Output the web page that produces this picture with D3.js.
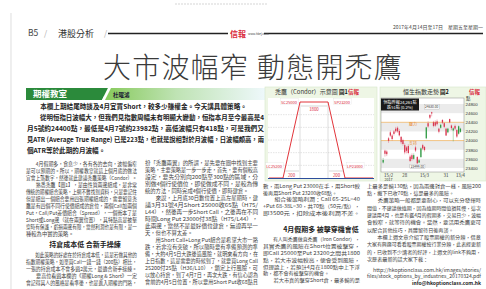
<!DOCTYPE html>
<html>
<head>
<meta charset="utf-8">
<script src="https://cdn.jsdelivr.net/npm/d3@7"></script>
<style>
  body { margin: 0; background: #fff; }
  svg { display: block; font-family: "Noto Sans CJK TC", "Noto Sans", sans-serif; }
</style>
</head>
<body>
<script>
// ---- chart data (圖2 恒生指數走勢) ----
const dates = ["10/2","13/2","14/2","15/2","16/2","17/2","20/2","21/2","22/2","23/2","24/2","27/2","28/2",
  "1/3","2/3","3/3","6/3","7/3","8/3","9/3","10/3","13/3","14/3","15/3","16/3","17/3","20/3","21/3","22/3",
  "23/3","24/3","27/3","28/3","29/3","30/3","31/3","3/4","5/4","6/4","7/4","10/4","11/4","12/4","13/4"]
const opens  = [23520,23780,23760,24050,24180,24110,24200,24260,24280,24210,24080,24010,23900,
  23850,23880,23650,23680,23600,23850,23640,23520,23640,23900,23860,24050,24380,24560,24620,24400,
  24400,24420,24260,24280,24450,24380,24260,24180,24470,24330,24220,24320,24230,24150,24190]
const highs  = [23620,23800,23790,24080,24220,24140,24230,24300,24310,24250,24100,24040,23940,
  23880,23920,23690,23720,23720,23890,23660,23600,23850,23930,23880,24300,24420,24580,24630,24430,
  24440,24460,24280,24370,24470,24400,24280,24280,24480,24350,24290,24350,24250,24330,24280]
const lows   = [23500,23650,23660,23950,24080,24000,24110,24170,24170,24090,23920,23890,23700,
  23720,23700,23530,23560,23580,23750,23499,23510,23620,23790,23760,24030,24280,24470,24530,24290,
  24300,24330,24160,24260,24360,24270,24100,24160,24380,24230,23982,24230,24060,24130,24170]
const closes = [23575,23711,23703,23994,24108,24034,24146,24202,24201,24114,23965,23925,23741,
  23776,23728,23553,23596,23681,23782,23501,23568,23829,23827,23792,24288,24309,24501,24593,24320,
  24327,24358,24193,24345,24392,24301,24111,24261,24400,24273,24267,24262,24088,24313,24261]
const hsiTicks = [23400,23600,23800,24000,24200,24400,24600,24800]
const xLabels = ["15/2","28/2","15/3","31/3","13/4"]
const xLabelText = ["15/2","28","15/3","31","13/4"]
const resistance = 24400, support = 24000
const infoLines = ["恒指昨報24,261點", "跌51點 (0.2%)"]

// ---- chart data (圖1 禿鷹示意圖) ----
const legNames   = ["LC25200","SC25000","SP23200","LP23000"]
const legStrikes = [25200,25000,23200,23000]
const legPayoff  = [-130,70,70,-130]
const wingStrikes = [25400,22800]
const spanLabels = ["200","1800","200"]

// ---- article text ----
const intro = [
  "　　本欄上期結尾時談及4月宜買Short，較多少賺權金。今天講具體策略。¶",
  "　　從明恒指日波幅大，但我們見指數周幅未有明顯大變動，恒指本月至今最高是4",
  "月5號約24400點，最低是4月7號約23982點，高低波幅只有418點，可是我們又",
  "見ATR (Average True Range) 已是223點，也就是說相對於月波幅，日波幅頗高，兩",
  "個ATR等於此期的月波幅。¶"
]
const col1a = [
  "　　4月假期多，食息少，各有各的去向，波幅偏窄",
  "是可以預期的。所以，期權教室就這上個月底的做法",
  "宜會上落數字，然後就此建議禿鷹策略（Condor）。¶",
  "　　熟悉禿鷹【圖1】，是由性質兩邊組成，是非常",
  "傳統的期權組合策略，上網不難找到資料，只是要記住",
  "但是組出一個組合要用四張期權組成的，需要留意禿",
  "鷹是有四個不同行使價組成的倉位，兩個Call加兩個",
  "Put，Call/Put差價組合（Spread），一個衝本了是",
  "Short或Long邊（就在兩翼位置），其特點高是被擊",
  "穿時有保護，虧損兩邊有限，當然利潤也是有限，是一",
  "種較為中實的策略。¶"
]
const col1Head = "持倉成本低 合新手操練"
const col1b = [
  "　　如此策略的好處在於持倉成本低，這是若做其他的",
  "指數期權策略，如單買Call一錢一錢（200點）相比，",
  "一張的持倉成本不會多過2萬元，最適合新手操練。",
  "　　要高位看過本欄的《期權Long & Short》一定",
  "會記得其人的風格是看準後，也是進入期權的門路，"
]
const col2 = [
  "扮「禿鷹兩翼」的所謂，是先要在圖中找到主要",
  "策略，主要策略是一步一步走，首先，要有個較高",
  "設定，要先分別向200點至300點的區域，分",
  "別做4個行使價位，即使做成不同，是較為傳",
  "統的方法，同時完成4個行使價，即時建倉。¶",
  "　　來說，上月底30日數位置上高左星期時，建",
  "議3月31號4月Short 25000收65點（H75/",
  "L44），然後再一步Short Call，之後再在不同",
  "時間Long Put 23000付38點（H75/L44），",
  "此兩邊，當然不是最好價位建倉，無證再早一",
  "天，但也不算太差。¶",
  "　　用Short Call+Long Put組合是希望大市一路",
  "跌，若非沒有突破，所以隨時要有準備預測的準",
  "備，大約4月5日大跌後造風險，就明來看方向，在",
  "上日指數，這是需要的時候到了，就要買Long Call",
  "25200付25點（H36/L10），鎖定上行風險，可",
  "以放心持倉，到了4月7日，再次大跌，有信心認為",
  "會前的4月5日位置，所以要用Short Put收68點且"
]
const col3a = [
  "數，兩Long Put 23000在手，用Short較",
  "後再用Short Put 23200收68點。¶",
  "　　組合後策略利潤：Call 65-25L=40",
  "+Put 68-38L=30，共70點（50元/點），",
  "即3500元，扣除成本後利潤不差。"
]
const col3Head = "4月假期多 被擊穿機會低"
const col3b = [
  "　　有人叫禿鷹做直禿鷹（Iron Condor），",
  "其實禿鷹的風險在Short位置被擊穿，",
  "即Call 25000至Put 23200之間共1800",
  "點，若大市波幅較高，便會受到風險，",
  "但理論上，若預計4月在1800點中上下浮",
  "動，都不會有被擊穿的機會。¶",
  "　　若大市真的擊穿Short倉，最多輸的是"
]
const col4 = [
  "上最多是輸130點，因為兩邊對倉一樣，風險200",
  "點，撇下已收70點，這是最多的風險。¶",
  "　　禿鷹策略一般都是要耐心，可以充分發揮時",
  "間值，不建議做遠期，因為遠期時間值損耗慢，這次",
  "建議用4月，也是有鑑4月的假期多，交易日少，波幅",
  "會較窄，就等待的機會。當然，要活用禿鷹更可",
  "以配合其他技巧，具體留待日後再談。¶",
  "　　本欄上週文章介紹了股票期權的新分類，借意",
  "大家有興趣可看看股票期權按行業分類，此表經更新",
  "的，已收到不少讀者的好評，上週文的link不夠用，",
  "次歷表最新的話大家下載：¶"
]
const links = ["http://hkoptionclass.com.hk/images/stories/",
  "files/stock_options_by_industries_20170324.pdf", "info@hkoptionclass.com.hk"]

const width = 486, height = 289
const red = "#d9283a", textCol = "#3c3c3c"

const svg = d3.select("body").append("svg")
  .attr("width", width)
  .attr("height", height)

// justified text lines; "¶" marks the last line of a paragraph
const block = (lines, x0, x1, yc, lh, size, opt = {}) => {
  const g = svg.append("g")
    .attr("font-size", size)
    .attr("fill", opt.fill || textCol)
    .attr("font-weight", opt.weight || 400)
  lines.forEach((raw, i) => {
    const end = raw.endsWith("¶")
    const s = end ? raw.slice(0, -1) : raw
    const t = g.append("text")
      .attr("x", x0)
      .attr("y", yc + i*lh + size*0.36)
      .text(s)
    const w = t.node().getComputedTextLength()
    if (!end || w > x1 - x0) t.attr("textLength", x1 - x0).attr("lengthAdjust", "spacingAndGlyphs")
  })
}

// page furniture
svg.append("line").attr("x1", 175).attr("x2", 267).attr("y1", 4).attr("y2", 4)
  .attr("stroke", "#bbb").attr("stroke-width", 0.6).attr("stroke-dasharray", "2,1")
svg.append("line").attr("x1", 11).attr("x2", 11).attr("y1", 13).attr("y2", height)
  .attr("stroke", "#d0d0d0").attr("stroke-width", 0.7)

// header
svg.append("text").attr("x", 28).attr("y", 36).attr("font-size", 8.5).attr("fill", "#444").text("B5")
svg.append("text").attr("x", 44).attr("y", 36).attr("font-size", 8).attr("fill", "#aaa").text("/")
svg.append("text").attr("x", 58).attr("y", 36.5).attr("font-size", 9).attr("fill", "#333").text("港股分析")
svg.append("text").attr("x", 104).attr("y", 36).attr("font-size", 8).attr("fill", "#aaa").text("/")
svg.append("line").attr("x1", 108).attr("x2", 228).attr("y1", 33.5).attr("y2", 33.5)
  .attr("stroke", "#222").attr("stroke-width", 1.3)
svg.append("line").attr("x1", 264).attr("x2", 483).attr("y1", 33.5).attr("y2", 33.5)
  .attr("stroke", "#222").attr("stroke-width", 1.3)
svg.append("text").attr("x", 230).attr("y", 36.5).attr("font-size", 8).attr("font-weight", 700)
  .attr("fill", red).text("信報")
svg.append("text").attr("x", 248).attr("y", 35).attr("font-size", 3).attr("fill", "#444").text("www.hkej.com")
svg.append("text").attr("x", 483).attr("y", 29).attr("font-size", 5).attr("fill", "#444")
  .attr("text-anchor", "end").text("2017年4月14日至17日　星期五至星期一")

// headline
const headline = svg.append("g").attr("font-size", 28).attr("font-weight", 200)
  .attr("fill", "#3a3a3a").attr("letter-spacing", 1.2)
headline.append("text").attr("x", 103).attr("y", 78).text("大市波幅窄")
headline.append("text").attr("x", 257).attr("y", 78).text("動態開禿鷹")

// column bar
const defs = svg.append("defs")
const grad = defs.append("linearGradient").attr("id", "bar")
grad.append("stop").attr("offset", "0%").attr("stop-color", "#86c95a")
grad.append("stop").attr("offset", "45%").attr("stop-color", "#bfe3b4")
grad.append("stop").attr("offset", "100%").attr("stop-color", "#eef8fb")
svg.append("rect").attr("x", 104).attr("y", 88).attr("width", 161).attr("height", 12).attr("fill", "url(#bar)")
svg.append("path").attr("d", "M26,88H108L102,100H26Z").attr("fill", "#2b8a3b")
svg.append("path").attr("d", "M108,88H111L105,100H102Z").attr("fill", "#fff")
svg.append("text").attr("x", 33).attr("y", 97.3).attr("font-size", 8.5).attr("font-weight", 700)
  .attr("fill", "#fff").text("期權教室")
svg.append("text").attr("x", 113).attr("y", 96.5).attr("font-size", 5.5).attr("font-weight", 700)
  .attr("fill", "#223").text("杜曜鴻")

// article
block(intro, 27, 264, 107, 11, 6.6, { weight: 700, fill: "#222" })
block(col1a, 26, 137, 164, 7, 5.3)
svg.append("text").attr("x", 85).attr("y", 246.5).attr("font-size", 7).attr("font-weight", 700)
  .attr("fill", "#222").attr("text-anchor", "middle").text(col1Head)
block(col1b, 26, 137, 255, 7, 5.3)
block(col2, 145, 258, 163, 7, 5.3)
block(col3a, 263, 360, 186, 6.8, 5.1)
svg.append("text").attr("x", 321).attr("y", 231.5).attr("font-size", 7).attr("font-weight", 700)
  .attr("fill", "#222").attr("text-anchor", "middle").text(col3Head)
block(col3b, 263, 360, 239.5, 6.8, 5.1)
block(col4, 367, 481, 186, 7.3, 5.1)
svg.append("text").attr("x", 373).attr("y", 271.8).attr("font-size", 5).attr("fill", textCol)
  .attr("textLength", 108).attr("lengthAdjust", "spacingAndGlyphs").text(links[0])
svg.append("text").attr("x", 367).attr("y", 278.3).attr("font-size", 5).attr("fill", textCol)
  .attr("textLength", 114).attr("lengthAdjust", "spacingAndGlyphs").text(links[1])
svg.append("text").attr("x", 481).attr("y", 284.8).attr("font-size", 5).attr("font-weight", 700)
  .attr("fill", "#222").attr("text-anchor", "end").text(links[2])

// ---- 圖1 禿鷹 (Condor) 示意圖 ----
const c1 = svg.append("g")
c1.append("rect").attr("x", 265).attr("y", 87).attr("width", 112).attr("height", 94)
  .attr("fill", "#eef6e5").attr("stroke", "#d5e6c9").attr("stroke-width", 0.6)
c1.append("rect").attr("x", 268).attr("y", 98).attr("width", 106).attr("height", 80).attr("fill", "#fff")
c1.append("text").attr("x", 275).attr("y", 94.3).attr("font-size", 6).attr("fill", "#333").text("禿鷹（Condor）示意圖")
c1.append("text").attr("x", 339).attr("y", 94.3).attr("font-size", 5.5).attr("font-weight", 700).attr("fill", "#111").text("圖1")
c1.append("text").attr("x", 348).attr("y", 94.3).attr("font-size", 5.5).attr("font-weight", 700).attr("fill", red).text("信報")

const strikes = [wingStrikes[0], ...legStrikes, wingStrikes[1]]
const payoff = [legPayoff[0], ...legPayoff, legPayoff[3]]
const cx = d3.scaleLinear().domain(strikes).range([269, 283, 300, 328, 345, 373])
const cy = d3.scaleLinear().domain([d3.min(legPayoff), d3.max(legPayoff)]).range([178, 102])

c1.append("g").selectAll("line")
  .data(d3.range(cy.domain()[0], cy.domain()[1], (cy.domain()[1] - cy.domain()[0]) / 6).slice(1))
  .join("line")
    .attr("x1", 268).attr("x2", 374)
    .attr("y1", d => cy(d)).attr("y2", d => cy(d))
    .attr("stroke", "#c8c8c8").attr("stroke-width", 0.5).attr("stroke-dasharray", "1.5,1")

// reference lines at the short strikes
c1.append("g").selectAll("line")
  .data(legStrikes.slice(1, 3))
  .join("line")
    .attr("x1", d => cx(d)).attr("x2", d => cx(d))
    .attr("y1", cy(70)).attr("y2", cy(-130))
    .attr("stroke", "#bbb").attr("stroke-width", 0.5)

c1.append("path")
  .datum(strikes.map((s, i) => [s, payoff[i]]))
  .attr("d", d3.line().x(d => cx(d[0])).y(d => cy(d[1])))
  .attr("fill", "none").attr("stroke", "#e2343a").attr("stroke-width", 1)

c1.append("line").attr("x1", 268).attr("x2", 374).attr("y1", 178.5).attr("y2", 178.5)
  .attr("stroke", "#2d4e9c").attr("stroke-width", 1.2)

// span dimensions
const spans = [[legStrikes[0], legStrikes[1]], [legStrikes[1], legStrikes[2]], [legStrikes[2], legStrikes[3]]]
const spanY = [171, 106, 171]
spans.forEach((sp, i) => {
  c1.append("line").attr("x1", cx(sp[0]) + 1).attr("x2", cx(sp[1]) - 1)
    .attr("y1", spanY[i]).attr("y2", spanY[i]).attr("stroke", "#999").attr("stroke-width", 0.4)
  c1.append("text").attr("x", (cx(sp[0]) + cx(sp[1])) / 2).attr("y", spanY[i] + (i === 1 ? 5 : 5.5))
    .attr("font-size", 4.3).attr("fill", red).attr("text-anchor", "middle").text(spanLabels[i])
})

// leg labels
const labelPos = [
  { dx: -1, dy: -12, anchor: "end" },
  { dx: -3, dy: 0, anchor: "end" },
  { dx: 6, dy: 0, anchor: "start" },
  { dx: 2, dy: -12, anchor: "start" }
]
legNames.forEach((n, i) => {
  const p = labelPos[i]
  const t = c1.append("text")
    .attr("x", cx(legStrikes[i]) + p.dx)
    .attr("y", cy(legPayoff[i]) + p.dy + 1.5)
    .attr("font-size", 4).attr("fill", red).attr("text-anchor", p.anchor).text(n)
  const b = t.node().getBBox()
  c1.insert("rect", () => t.node()).attr("x", b.x - 0.5).attr("y", b.y + 0.3)
    .attr("width", b.width + 1).attr("height", b.height - 0.6)
    .attr("fill", "#fff").attr("stroke", "#ddd").attr("stroke-width", 0.3)
})

// ---- 圖2 恒生指數走勢 ----
const c2 = svg.append("g")
c2.append("rect").attr("x", 380).attr("y", 87).attr("width", 106).attr("height", 94)
  .attr("fill", "#eef6e5").attr("stroke", "#d5e6c9").attr("stroke-width", 0.6)
c2.append("text").attr("x", 403).attr("y", 94.3).attr("font-size", 6).attr("fill", "#333").text("恒生指數走勢")
c2.append("text").attr("x", 440).attr("y", 94.3).attr("font-size", 5.5).attr("font-weight", 700).attr("fill", "#111").text("圖2")
c2.append("text").attr("x", 469).attr("y", 94.3).attr("font-size", 5.5).attr("font-weight", 700).attr("fill", red).text("信報")

const x = d3.scaleBand().domain(dates).range([382, 461.6]).padding(0.3)
const y = d3.scaleLinear().domain([23400, 24800]).range([168, 104])
const plotTop = 98, plotBottom = 172, plotLeft = 381, plotRight = 464

c2.append("rect").attr("x", plotLeft).attr("y", plotTop)
  .attr("width", plotRight - plotLeft).attr("height", plotBottom - plotTop).attr("fill", "#fff")
c2.append("g").selectAll("rect")
  .data(d3.pairs(hsiTicks).filter((d, i) => i % 2 === 0))
  .join("rect")
    .attr("x", plotLeft).attr("width", plotRight - plotLeft)
    .attr("y", d => y(d[1])).attr("height", d => y(d[0]) - y(d[1]))
    .attr("fill", "#ebebeb")
c2.append("rect").attr("x", plotLeft).attr("y", plotTop)
  .attr("width", plotRight - plotLeft).attr("height", plotBottom - plotTop)
  .attr("fill", "none").attr("stroke", "#8a8a8a").attr("stroke-width", 0.5)

const yAxis = c2.append("g").attr("transform", `translate(${plotRight + 1.5},0)`)
  .call(d3.axisRight(y).tickValues(hsiTicks).tickSize(0).tickPadding(0).tickFormat(d3.format("d")))
yAxis.select(".domain").remove()
yAxis.selectAll("text").attr("font-size", 4.4).attr("fill", "#333").attr("font-family", null)
c2.append("text").attr("x", plotRight + 2).attr("y", 99.5).attr("font-size", 4.4).attr("fill", "#333").text("點")

// resistance / support
;[[resistance, "壓力"], [support, "支持"]].forEach(([v, lab]) => {
  c2.append("line").attr("x1", plotLeft).attr("x2", plotRight).attr("y1", y(v)).attr("y2", y(v))
    .attr("stroke", "#f0a43a").attr("stroke-width", 0.6)
  c2.append("text").attr("x", 409).attr("y", y(v) + 4.2).attr("font-size", 4).attr("fill", "#e8862a").text(lab)
})

// candles
const bars = dates.map((d, i) => ({ d, o: opens[i], h: highs[i], l: lows[i], c: closes[i] }))
const candle = c2.append("g").selectAll("g").data(bars).join("g")
  .attr("stroke", b => b.c >= b.o ? "#2f9a43" : "#d9344e")
  .attr("fill", b => b.c >= b.o ? "#2f9a43" : "#d9344e")
candle.append("line")
  .attr("x1", b => x(b.d) + x.bandwidth() / 2).attr("x2", b => x(b.d) + x.bandwidth() / 2)
  .attr("y1", b => y(b.h)).attr("y2", b => y(b.l)).attr("stroke-width", 0.35)
candle.append("rect")
  .attr("x", b => x(b.d)).attr("width", x.bandwidth())
  .attr("y", b => y(Math.max(b.o, b.c)))
  .attr("height", b => Math.max(0.5, Math.abs(y(b.o) - y(b.c))))
  .attr("stroke", "none")

// high / low tags
const hi = bars[d3.maxIndex(highs)], lo = bars[d3.minIndex(lows)]
;[[hi, y(hi.h) - 3.5, hi.h], [lo, y(lo.l) + 4.5, lo.l]].forEach(([b, ty, v]) => {
  const t = c2.append("text").attr("x", x(b.d) + x.bandwidth() / 2).attr("y", ty)
    .attr("font-size", 3.2).attr("fill", "#333").attr("text-anchor", "middle").text(d3.format(".2f")(v))
  const bb = t.node().getBBox()
  c2.insert("rect", () => t.node()).attr("x", bb.x - 0.8).attr("y", bb.y + 0.2)
    .attr("width", bb.width + 1.6).attr("height", bb.height - 0.4)
    .attr("fill", "#fff").attr("stroke", "#999").attr("stroke-width", 0.3)
})

// info box
c2.append("rect").attr("x", 381).attr("y", 98.5).attr("width", 38).attr("height", 12).attr("fill", "#1a1a1a")
infoLines.forEach((s, i) => {
  c2.append("text").attr("x", 400).attr("y", 103.5 + i * 5).attr("font-size", 4.1)
    .attr("fill", "#fff").attr("text-anchor", "middle").text(s)
})

// x labels
xLabels.forEach((d, i) => {
  c2.append("text").attr("x", x(d) + x.bandwidth() / 2).attr("y", 177)
    .attr("font-size", 4.4).attr("fill", "#333").attr("text-anchor", "middle").text(xLabelText[i])
})
c2.append("text").attr("x", x(xLabels[0]) + x.bandwidth() / 2).attr("y", 181)
  .attr("font-size", 3.6).attr("fill", "#333").attr("text-anchor", "middle").text("2017")
</script>
</body>
</html>
